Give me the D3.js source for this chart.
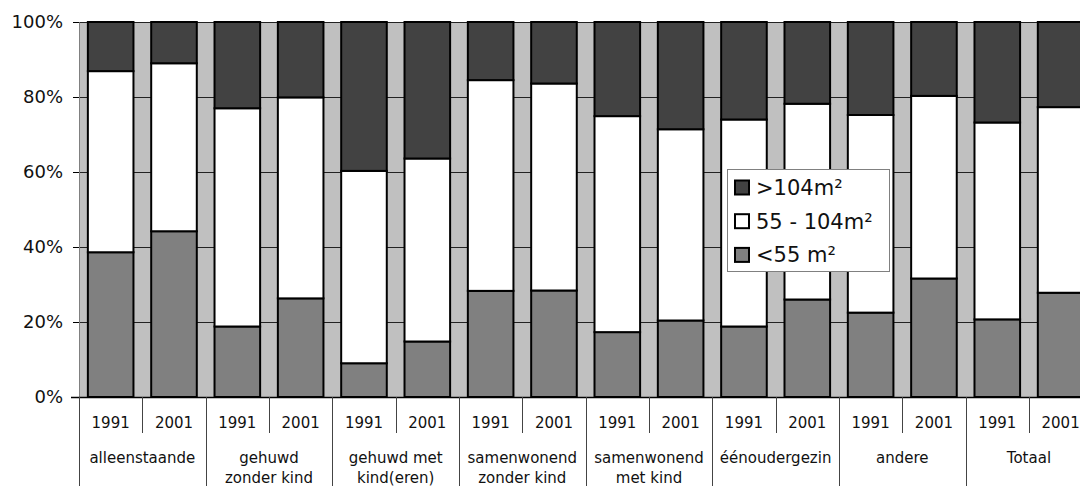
<!DOCTYPE html>
<html>
<head>
<meta charset="utf-8">
<script src="https://cdn.jsdelivr.net/npm/d3@7"></script>
<style>
  html, body { margin: 0; padding: 0; background: #fff; }
  svg { display: block; font-family: "DejaVu Sans", Verdana, sans-serif; }
</style>
</head>
<body>
<svg id="chart" width="1080" height="486"></svg>
<script>
// Household types, each measured in two census years
const groups = ["alleenstaande", "gehuwd\nzonder kind", "gehuwd met\nkind(eren)", "samenwonend\nzonder kind",
                "samenwonend\nmet kind", "éénoudergezin", "andere", "Totaal"];
const years = ["1991", "2001"];

// Share of dwellings per floor-area class (%), one value per bar (group × year)
const small = [38.6, 44.2, 18.8, 26.3, 9.0, 14.8, 28.3, 28.4, 17.3, 20.4, 18.8, 26.0, 22.5, 31.6, 20.7, 27.8];
const medium = [48.3, 44.8, 58.2, 53.6, 51.3, 48.8, 56.2, 55.2, 57.6, 51.0, 55.2, 52.2, 52.7, 48.7, 52.5, 49.5];
const large = [13.1, 11.0, 23.0, 20.1, 39.7, 36.4, 15.5, 16.4, 25.1, 28.6, 26.0, 21.8, 24.8, 19.7, 26.8, 22.7];

const seriesNames = ["<55 m²", "55 - 104m²", ">104m²"];
const yTicks = [0, 20, 40, 60, 80, 100];

const colors = { "<55 m²": "#808080", "55 - 104m²": "#ffffff", ">104m²": "#424242" };

const svg = d3.select("#chart");
const W = 1080, H = 486;
const plotLeft = 79, plotTop = 22, plotBottom = 397;
const step = 63.33;
const nBars = groups.length * years.length;
const plotRight = plotLeft + step * nBars;

const rows = d3.range(nBars).map(i => ({
  idx: i,
  "<55 m²": small[i],
  "55 - 104m²": medium[i],
  ">104m²": large[i]
}));

const x = d3.scaleBand().domain(d3.range(nBars)).range([plotLeft, plotRight])
  .paddingInner(0.28).paddingOuter(0.14);
const xCell = d3.scaleBand().domain(d3.range(nBars)).range([plotLeft, plotRight]);
const y = d3.scaleLinear().domain([0, 100]).range([plotBottom, plotTop]);

// Plot background
svg.append("rect").attr("x", plotLeft).attr("y", plotTop)
  .attr("width", plotRight - plotLeft).attr("height", plotBottom - plotTop).attr("fill", "#c0c0c0");

// Horizontal gridlines
svg.append("g").selectAll("line").data(yTicks).join("line")
  .attr("x1", plotLeft).attr("x2", plotRight)
  .attr("y1", d => y(d) + 0.5).attr("y2", d => y(d) + 0.5)
  .attr("stroke", "#222").attr("stroke-width", 1);

// Stacked bars
const stack = d3.stack().keys(seriesNames);
const stacked = stack(rows);
svg.append("g").selectAll("g").data(stacked).join("g")
  .attr("fill", d => colors[d.key])
  .selectAll("rect").data(d => d).join("rect")
  .attr("x", d => x(d.data.idx))
  .attr("width", x.bandwidth())
  .attr("y", d => y(d[1]))
  .attr("height", d => y(d[0]) - y(d[1]))
  .attr("stroke", "#000").attr("stroke-width", 2);

// Y axis
const yAxis = svg.append("g").attr("transform", `translate(${plotLeft},0)`)
  .call(d3.axisLeft(y).tickValues(yTicks).tickFormat(d => d + "%").tickSize(6).tickPadding(10));
yAxis.select(".domain").attr("stroke", "#808080");
yAxis.selectAll(".tick line").attr("stroke", "#000");
yAxis.selectAll("text").attr("font-size", 18).attr("fill", "#111")
  .attr("font-family", "DejaVu Sans, Verdana, sans-serif");

// X axis baseline
svg.append("line").attr("x1", plotLeft - 8).attr("x2", plotRight)
  .attr("y1", plotBottom + 0.5).attr("y2", plotBottom + 0.5)
  .attr("stroke", "#000").attr("stroke-width", 1.5);

// Category label table: year dividers and group dividers
const lab = svg.append("g");
d3.range(nBars).forEach(i => {
  const xb = Math.round(xCell(i)) + 0.5;
  const isGroupStart = i % 2 === 0;
  lab.append("line").attr("x1", xb).attr("x2", xb)
    .attr("y1", plotBottom).attr("y2", isGroupStart ? H : 433)
    .attr("stroke", "#444").attr("stroke-width", 1);
});
lab.append("line").attr("x1", Math.round(plotRight) + 0.5).attr("x2", Math.round(plotRight) + 0.5)
  .attr("y1", plotBottom).attr("y2", H).attr("stroke", "#444");

lab.selectAll("text.year").data(d3.range(nBars)).join("text")
  .attr("class", "year")
  .attr("x", i => xCell(i) + xCell.bandwidth() / 2)
  .attr("y", 427.5)
  .attr("text-anchor", "middle").attr("font-size", 15).attr("fill", "#111")
  .text(i => years[i % 2]);

groups.forEach((g, gi) => {
  const cx = xCell(gi * 2) + xCell.bandwidth();
  const t = lab.append("text").attr("text-anchor", "middle").attr("font-size", 15).attr("fill", "#111");
  g.split("\n").forEach((line, li) => {
    t.append("tspan").attr("x", cx).attr("y", 462.5 + li * 20.5).text(line);
  });
});

// Legend
const legend = svg.append("g").attr("transform", "translate(727,169)");
legend.append("rect").attr("x", 0.5).attr("y", 0.5).attr("width", 162).attr("height", 102)
  .attr("fill", "#fff").attr("stroke", "#808080").attr("stroke-width", 1);
const legendOrder = [">104m²", "55 - 104m²", "<55 m²"];
legendOrder.forEach((k, i) => {
  const cy = 18.5 + i * 33.7;
  legend.append("rect").attr("x", 8).attr("y", cy - 7).attr("width", 14).attr("height", 14)
    .attr("fill", colors[k]).attr("stroke", "#000").attr("stroke-width", 2);
  legend.append("text").attr("x", 29).attr("y", cy).attr("dy", "0.36em")
    .attr("font-size", 21).attr("fill", "#111").text(k);
});
</script>
</body>
</html>
